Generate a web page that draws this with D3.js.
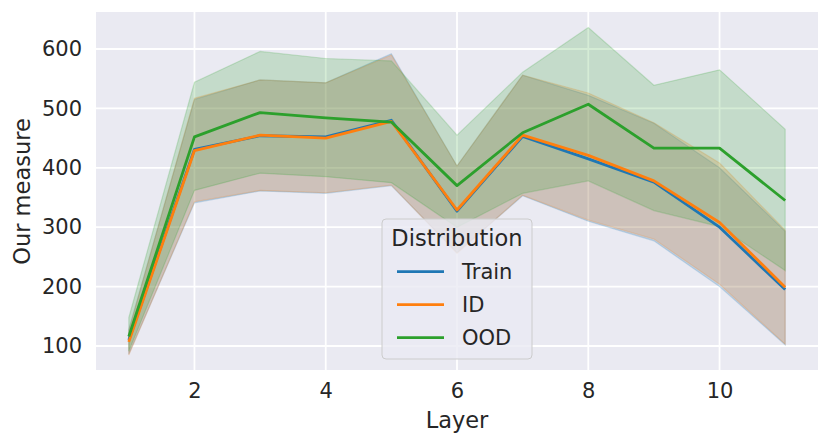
<!DOCTYPE html>
<html>
<head>
<meta charset="utf-8">
<script src="https://cdn.jsdelivr.net/npm/d3@7"></script>
<style>
  body { margin: 0; background: #ffffff; }
  svg { display: block; font-family: "DejaVu Sans", sans-serif; }
</style>
</head>
<body>
<svg id="chart" width="831" height="445"></svg>
<script>
// data
const layers = [1, 2, 3, 4, 5, 6, 7, 8, 9, 10, 11];

const trainMean  = [110, 431, 454, 452, 480, 327, 453, 415, 376, 300, 195];
const trainUpper = [128, 515, 548, 543, 592, 403, 556, 522, 475, 400, 293];
const trainLower = [86, 341, 361, 357, 370, 257, 353, 310, 277, 200, 102];

const idMean  = [107, 429, 455, 450, 478, 329, 455, 421, 378, 308, 199];
const idUpper = [126, 517, 548, 543, 590, 403, 556, 526, 476, 408, 295];
const idLower = [85, 343, 362, 358, 371, 256, 354, 312, 280, 204, 103];

const oodMean  = [116, 452, 493, 484, 477, 370, 459, 507, 433, 433, 345];
const oodUpper = [148, 544, 596, 584, 580, 455, 561, 636, 539, 565, 465];
const oodLower = [91, 362, 391, 385, 375, 300, 357, 378, 328, 301, 227];

const seriesNames = ["Train", "ID", "OOD"];
const xTicks = [2, 4, 6, 8, 10];
const yTicks = [100, 200, 300, 400, 500, 600];

const series = [
    { name: "Train", color: "#1f77b4", mean: trainMean, upper: trainUpper, lower: trainLower },
    { name: "ID",    color: "#ff7f0e", mean: idMean,    upper: idUpper,    lower: idLower },
    { name: "OOD",   color: "#2ca02c", mean: oodMean,   upper: oodUpper,   lower: oodLower }
];

const svg = d3.select("#chart");
const plotLeft = 96, plotRight = 818, plotTop = 12, plotBottom = 370;
const textColor = "#262626";

const x = d3.scaleLinear().domain([0.5, 11.5]).range([plotLeft, plotRight]);
const y = d3.scaleLinear().domain([59.6, 662.3]).range([plotBottom, plotTop]);

// background + grid
svg.append("rect")
    .attr("x", plotLeft).attr("y", plotTop)
    .attr("width", plotRight - plotLeft).attr("height", plotBottom - plotTop)
    .attr("fill", "#eaeaf2");

svg.append("g").selectAll("line").data(xTicks).join("line")
    .attr("x1", d => x(d)).attr("x2", d => x(d))
    .attr("y1", plotTop).attr("y2", plotBottom)
    .attr("stroke", "#ffffff").attr("stroke-width", 1.8);

svg.append("g").selectAll("line").data(yTicks).join("line")
    .attr("x1", plotLeft).attr("x2", plotRight)
    .attr("y1", d => y(d)).attr("y2", d => y(d))
    .attr("stroke", "#ffffff").attr("stroke-width", 1.8);

// confidence bands
const area = d3.area()
    .x((d, i) => x(layers[i]))
    .y0(d => y(d[0]))
    .y1(d => y(d[1]));

series.forEach(s => {
    const band = s.lower.map((v, i) => [v, s.upper[i]]);
    svg.append("path")
        .attr("d", area(band))
        .attr("fill", s.color)
        .attr("fill-opacity", 0.2)
        .attr("stroke", s.color)
        .attr("stroke-opacity", 0.2)
        .attr("stroke-width", 1.2);
});

// mean lines
const line = d3.line()
    .x((d, i) => x(layers[i]))
    .y(d => y(d));

series.forEach(s => {
    svg.append("path")
        .attr("d", line(s.mean))
        .attr("fill", "none")
        .attr("stroke", s.color)
        .attr("stroke-width", 2.8)
        .attr("stroke-linejoin", "round");
});

// axes (tick labels only, seaborn style)
const xAxis = svg.append("g")
    .attr("transform", `translate(0,${plotBottom})`)
    .call(d3.axisBottom(x).tickValues(xTicks).tickSize(0).tickPadding(13));
const yAxis = svg.append("g")
    .attr("transform", `translate(${plotLeft},0)`)
    .call(d3.axisLeft(y).tickValues(yTicks).tickSize(0).tickPadding(14));

[xAxis, yAxis].forEach(ax => {
    ax.select(".domain").remove();
    ax.selectAll("text")
        .style("font-size", "21px")
        .style("font-family", "DejaVu Sans")
        .attr("fill", textColor);
});

svg.append("text")
    .text("Layer")
    .attr("x", (plotLeft + plotRight) / 2)
    .attr("y", 428)
    .attr("text-anchor", "middle")
    .style("font-size", "22.5px")
    .attr("fill", textColor);

svg.append("text")
    .text("Our measure")
    .attr("transform", `translate(30,${(plotTop + plotBottom) / 2 + 0.5}) rotate(-90)`)
    .attr("text-anchor", "middle")
    .style("font-size", "22.5px")
    .attr("fill", textColor);

// legend
const legend = svg.append("g").attr("transform", "translate(382,219)");

legend.append("rect")
    .attr("width", 150).attr("height", 140)
    .attr("rx", 4).attr("ry", 4)
    .attr("fill", "#eaeaf2").attr("fill-opacity", 0.8)
    .attr("stroke", "#cccccc").attr("stroke-width", 1);

legend.append("text")
    .text("Distribution")
    .attr("x", 75).attr("y", 27)
    .attr("text-anchor", "middle")
    .style("font-size", "22.5px")
    .attr("fill", textColor);

const entries = legend.selectAll("g.entry").data(seriesNames).join("g")
    .attr("class", "entry")
    .attr("transform", (d, i) => `translate(0,${52.7 + i * 33})`);

entries.append("line")
    .attr("x1", 15).attr("x2", 62)
    .attr("stroke", (d, i) => series[i].color)
    .attr("stroke-width", 2.8);

entries.append("text")
    .text(d => d)
    .attr("x", 80)
    .attr("dy", "0.36em")
    .style("font-size", "21px")
    .attr("fill", textColor);
</script>
</body>
</html>
